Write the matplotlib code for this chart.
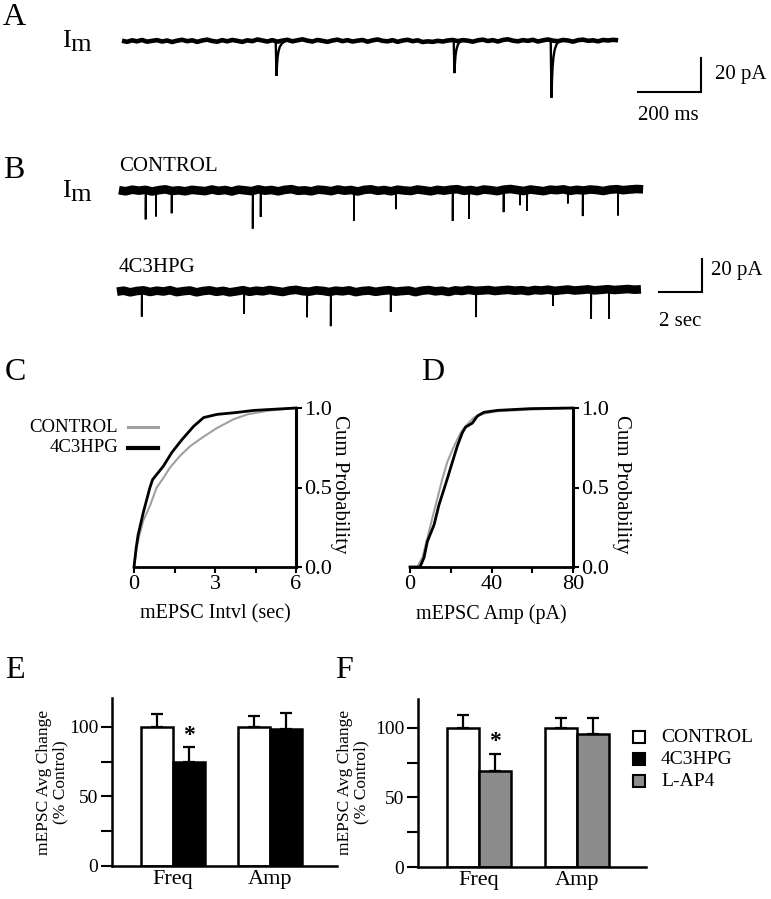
import numpy as np
import matplotlib
matplotlib.use('Agg')
import matplotlib.pyplot as plt
from matplotlib.patches import Rectangle
from matplotlib.lines import Line2D

plt.rcParams['font.family'] = ['Liberation Serif', 'DejaVu Serif']
plt.rcParams['axes.linewidth'] = 1.8

W, H = 771, 899
fig = plt.figure(figsize=(W / 100, H / 100), dpi=100)
fig.patch.set_facecolor('white')

# ---------------- data ----------------
# Panel A: single trace (time in ms, current in pA)
a_duration = 1575
a_event_t = [489, 1054, 1362]
a_event_amp = [20.0, 19.5, 33.5]
a_baseline = [0.2, -0.5, 0.4, -0.2, 0.6, -0.4, 0.1, 0.5, -0.3, 0.3, -0.6, 0.2, 0.7, -0.1,
              0.4, -0.5, 0.3, 0.8, 0.0, -0.4, 0.5, -0.2, 0.6, 0.1, -0.5, 0.4, -0.1, 0.9,
              0.3, -0.3, 0.5, -0.4, 0.2, 0.7, -0.2, 0.4, 1.0, 0.2, -0.3, 0.6, 0.1, -0.5,
              0.3, 0.8, -0.1, 0.5, -0.3, 0.2, 0.6, -0.4, 0.4, 0.9, 0.1, -0.2, 0.5, -0.5,
              0.3, 0.7, -0.1, 0.4, -0.6, -0.2, -0.5, 0.1, -0.3, 0.3, 0.6, -0.1, 0.5, 0.2,
              -0.4, 0.4, 0.8, 0.0, 0.5, -0.3, 0.6, 1.0, 0.2, -0.2, 0.5, 0.1, 0.7, -0.3,
              0.4, 0.9, 0.2, -0.1, 0.6, 0.3, -0.4, 0.5, 0.8, 0.1, 0.4, -0.2, 0.6, 0.3,
              0.7, 0.4]
# mEPSC waveform (ms offsets, normalised amplitude)
wave_t = [-1, 0, 1.5, 3, 5, 8, 12, 18, 26]
wave_v = [0, -0.4, -1.0, -0.7, -0.45, -0.28, -0.15, -0.06, 0]

# Panel B: long traces (time in s, current in pA)
b_ctrl_span = (0.09, 24.47)
b_ctrl_event_t = [1.33, 1.81, 2.54, 6.31, 6.68, 11.02, 12.97, 15.61, 16.37, 17.98,
                  18.74, 19.07, 20.97, 21.66, 23.30]
b_ctrl_event_amp = [17.9, 15.9, 13.5, 22.7, 16.7, 18.5, 11.8, 18.9, 17.3, 13.6,
                    9.2, 13.0, 7.6, 15.5, 15.9]
b_ctrl_baseline = [0.2, -0.5, 0.5, -0.1, 0.4, -0.6, 0.2, 0.7, -0.3, 0.1, -0.5, 0.4, 0.0,
                   -0.4, 0.6, -0.2, 0.3, -0.6, 0.5, 0.1, -0.4, 0.7, -0.1, 0.3, -0.5, 0.4,
                   0.8, -0.2, 0.1, -0.5, 0.5, 0.2, -0.4, 0.6, -0.1, 0.3, -0.6, 0.4, 0.7,
                   -0.2, 0.3, -0.5, 0.5, 0.0, -0.3, 0.6, 0.1, -0.5, 0.4, -0.1, 0.5, 0.8,
                   -0.2, 0.3, -0.4, 0.6, 0.2, -0.4, 0.5, 0.9, 0.3, -0.3, 0.6, 0.1, -0.4,
                   0.5, 0.2, 0.7, -0.2, 0.4, 0.0, 0.6, 0.3, -0.3, 0.5, 0.8, 0.2, 0.6, 0.9,
                   0.7]
b_drug_span = (0.0, 24.37)
b_drug_event_t = [1.15, 5.91, 8.84, 9.94, 12.73, 16.70, 20.28, 22.05, 22.88]
b_drug_event_amp = [15.9, 14.2, 15.5, 20.7, 13.2, 15.9, 9.2, 17.9, 17.9]
b_drug_baseline = [-0.1, 0.5, -0.5, 0.3, 0.7, -0.3, 0.5, 0.0, 0.8, -0.4, 0.2, 0.6, -0.5,
                   0.3, 0.7, -0.2, 0.4, -0.5, 0.1, 0.8, -0.2, 0.5, 0.1, 0.9, 0.3, -0.3,
                   0.6, 1.0, 0.2, -0.1, 0.7, 0.4, -0.3, 0.5, 0.1, 0.7, -0.4, 0.3, 0.6,
                   -0.2, 0.4, 0.8, -0.1, 0.3, 0.6, -0.4, 0.5, 0.9, 0.1, 0.5, -0.3, 0.7,
                   0.3, 1.0, 0.4, 0.6, 0.9, 0.3, 0.7, 1.0, 0.5, 0.8, 0.2, 0.9, 0.6, 1.1,
                   0.4, 0.8, 1.2, 0.6, 0.9, 1.3, 0.7, 1.0, 1.4, 0.9, 1.2, 1.5, 1.1, 1.3]

# Panel C: cumulative probability of inter-event interval (s)
c_ctrl_x = [0, 0.1, 0.2, 0.34, 0.59, 0.84, 1.09, 1.33, 1.71, 2.08, 2.58, 3.08, 3.70,
            4.20, 4.95, 6.0]
c_ctrl_y = [0, 0.12, 0.2, 0.29, 0.385, 0.50, 0.56, 0.625, 0.70, 0.76, 0.82, 0.875,
            0.93, 0.96, 0.983, 1.0]
c_drug_x = [0, 0.08, 0.15, 0.34, 0.59, 0.69, 1.09, 1.40, 1.77, 2.21, 2.58, 3.08, 3.70,
            4.45, 6.0]
c_drug_y = [0, 0.12, 0.2, 0.34, 0.50, 0.55, 0.635, 0.72, 0.80, 0.885, 0.94, 0.96, 0.97,
            0.985, 1.0]

# Panel D: cumulative probability of amplitude (pA)
d_ctrl_x = [0, 3.6, 6.1, 8.5, 11.0, 13.4, 15.9, 18.3, 21.6, 24.9, 27.3, 31.4, 36.3,
            42.9, 59.2, 80]
d_ctrl_y = [0, 0, 0.06, 0.18, 0.31, 0.43, 0.555, 0.66, 0.76, 0.845, 0.886, 0.94, 0.965,
            0.98, 0.99, 1.0]
d_drug_x = [0, 4.9, 6.9, 8.5, 11.8, 14.2, 16.7, 18.3, 20.8, 23.2, 25.7, 27.3, 30.6,
            33.1, 36.3, 42.9, 59.2, 80]
d_drug_y = [0, 0, 0.06, 0.16, 0.265, 0.39, 0.49, 0.555, 0.66, 0.76, 0.845, 0.88, 0.905,
            0.95, 0.973, 0.985, 0.996, 1.0]

# Panels E and F: average change (% control)
groups = ['Freq', 'Amp']
series_names = ['CONTROL', '4C3HPG', 'L-AP4']
series_colors = ['white', 'black', '#8c8c8c']
e_ctrl = [100, 100]
e_ctrl_err = [9.4, 8.0]
e_drug = [74.5, 98.5]
e_drug_err = [11.1, 11.5]
f_ctrl = [100, 100]
f_ctrl_err = [9.6, 7.0]
f_lap4 = [69, 96]
f_lap4_err = [12.0, 11.5]
star_level_e = 94
star_level_f = 90

GREY_LINE = '#a0a0a0'


# ---------------- helpers ----------------
def px_axes(x0, y0, x1, y1):
    return fig.add_axes([x0 / W, 1 - y1 / H, (x1 - x0) / W, (y1 - y0) / H])


def ftext(x, y, s, **kw):
    return fig.text(x / W, 1 - y / H, s, **kw)


def draw_trace(ax, span, base, ev_t, ev_a, offset, tscale, lw_base, lw_ev):
    kt = np.linspace(span[0], span[1], len(base))
    base = np.asarray(base)
    ax.plot(kt, base + offset, color='k', lw=lw_base, solid_capstyle='butt',
            solid_joinstyle='round')
    wt = np.asarray(wave_t) * tscale
    wv = np.asarray(wave_v)
    for te, a in zip(ev_t, ev_a):
        b = base[np.argmin(np.abs(kt - te))]
        ax.plot(te + wt, offset + b + a * wv, color='k', lw=lw_ev,
                solid_joinstyle='miter')


# ---------------- panel A ----------------
axA = px_axes(100, 0, 771, 140)
axA.axis('off')
pxms = 0.315  # px per ms
pxpa = 1.7    # px per pA
axA.set_xlim((100 - 122) / pxms, (771 - 122) / pxms)
axA.set_ylim((41 - 140) / pxpa, 41 / pxpa)
draw_trace(axA, (0, a_duration), a_baseline, a_event_t, a_event_amp, 0, 1.0, 3.3, 1.7)
sbx = (638 - 122) / pxms
sby = (41 - 92) / pxpa
axA.plot([sbx, sbx + 200, sbx + 200], [sby, sby, sby + 20], color='k', lw=1.5,
         solid_joinstyle='miter')
axA.text(sbx + 200 + 14 / pxms, sby + 10, '20 pA', fontsize=15, va='center', ha='left')
axA.text(sbx, (41 - 115) / pxpa, '200 ms', fontsize=15, va='center', ha='left')

# ---------------- panel B ----------------
axB = px_axes(100, 140, 771, 340)
axB.axis('off')
pxs = 21.5   # px per s
pxpb = 1.65  # px per pA
axB.set_xlim((100 - 117) / pxs, (771 - 117) / pxs)
axB.set_ylim((190.5 - 340) / pxpb, (190.5 - 140) / pxpb)
drug_off = (190.5 - 291.5) / pxpb
draw_trace(axB, b_ctrl_span, b_ctrl_baseline, b_ctrl_event_t, b_ctrl_event_amp, 0,
           0.001, 6.2, 1.3)
draw_trace(axB, b_drug_span, b_drug_baseline, b_drug_event_t, b_drug_event_amp,
           drug_off, 0.001, 6.2, 1.3)
sbx = (659 - 117) / pxs
sby = (190.5 - 291.7) / pxpb
axB.plot([sbx, sbx + 2, sbx + 2], [sby, sby, sby + 20], color='k', lw=1.5,
         solid_joinstyle='miter')
axB.text(sbx + 2 + 9 / pxs, sby + 13, '20 pA', fontsize=15, va='center', ha='left')
axB.text(sbx, (190.5 - 321.7) / pxpb, '2 sec', fontsize=15, va='center', ha='left')
axB.text(0.09, (190.5 - 171) / pxpb, 'CONTROL', fontsize=15, va='baseline', ha='left')
axB.text(0.09, (190.5 - 272) / pxpb, '4C3HPG', fontsize=15, va='baseline', ha='left')

# I_m labels and panel letters
for yb in (47, 197):
    ftext(62, yb, 'I', fontsize=19, va='baseline')
    ftext(70, yb + 4, 'm', fontsize=19, va='baseline')
for letter, x, yb in [('A', 3, 25), ('B', 3, 178), ('C', 5, 380), ('D', 421, 380),
                      ('E', 5, 678), ('F', 335, 678)]:
    ftext(x, yb, letter, fontsize=23, va='baseline')


# ---------------- panels C, D ----------------
def cdf_axes(box, xlim, xmaj, xmin, xlabel, cx, cy, dx, dy, ylab_x):
    ax = px_axes(*box)
    ax.plot(cx, cy, color=GREY_LINE, lw=1.5, clip_on=False, zorder=3)
    ax.plot(dx, dy, color='k', lw=2.0, clip_on=False, zorder=4)
    ax.set_xlim(*xlim)
    ax.set_ylim(0, 1)
    for s in ('left', 'top'):
        ax.spines[s].set_visible(False)
    ax.spines['right'].set_linewidth(2.2)
    ax.spines['bottom'].set_linewidth(2.0)
    ax.yaxis.tick_right()
    ax.yaxis.set_label_position('right')
    ax.set_xticks(xmaj)
    ax.set_xticks(xmin, minor=True)
    ax.set_yticks([0, 0.5, 1.0])
    ax.set_yticklabels(['0.0', '0.5', '1.0'])
    ax.tick_params(which='both', direction='out', length=4.5, width=1.5, labelsize=16,
                   pad=1.5)
    ax.set_xlabel(xlabel, fontsize=14.5)
    ax.xaxis.label.set_va('center')
    ax.xaxis.set_label_coords(0.5, (box[3] - 614) / (box[3] - box[1]))
    ax.set_ylabel('Cum Probability', fontsize=15, rotation=270)
    ax.yaxis.label.set_va('center')
    ax.yaxis.label.set_rotation_mode('default')
    ax.yaxis.set_label_coords((ylab_x - box[0]) / (box[2] - box[0]),
                              (box[3] - 484) / (box[3] - box[1]))
    return ax


axC = cdf_axes((134, 408, 296, 567), (0, 6), [0, 3, 6], [1.5, 4.5],
               'mEPSC Intvl (sec)', c_ctrl_x, c_ctrl_y, c_drug_x, c_drug_y, 340)
axD = cdf_axes((410, 408, 573, 567), (0, 80), [0, 40, 80], [20, 60],
               'mEPSC Amp (pA)', d_ctrl_x, d_ctrl_y, d_drug_x, d_drug_y, 621)

# legend of C
for name, y, col, lw in [(series_names[0], 427, GREY_LINE, 2.2),
                         (series_names[1], 448, 'k', 3.0)]:
    fig.add_artist(Line2D([128 / W, 158 / W], [1 - y / H, 1 - y / H],
                          transform=fig.transFigure, color=col, lw=lw))
    ftext(118, y, name, fontsize=13.5, ha='right', va='center')


# ---------------- panels E, F ----------------
def bar_axes(box, pos, xmax, ctrl, ctrl_err, drug, drug_err, drug_color, star_y,
             ylab_x):
    ax = px_axes(*box)
    pos = np.asarray(pos)
    ax.bar(pos - 0.5, ctrl, width=1.0, color=series_colors[0], edgecolor='k', lw=1.8,
           zorder=2)
    ax.bar(pos + 0.5, drug, width=1.0, color=drug_color, edgecolor='k', lw=1.8, zorder=2)
    ax.errorbar(pos - 0.5, ctrl, yerr=[np.zeros(len(ctrl)), ctrl_err], fmt='none',
                ecolor='k', elinewidth=1.6, capsize=4, capthick=1.6, zorder=3)
    ax.errorbar(pos + 0.5, drug, yerr=[np.zeros(len(drug)), drug_err], fmt='none',
                ecolor='k', elinewidth=1.6, capsize=4, capthick=1.6, zorder=3)
    ax.text(pos[0] + 0.5, star_y, '*', fontsize=17, fontweight='bold', ha='center',
            va='center')
    ax.set_xlim(0, xmax)
    ax.set_ylim(0, 121)
    for s in ('right', 'top'):
        ax.spines[s].set_visible(False)
    ax.set_xticks(pos)
    ax.set_xticklabels(groups, fontsize=16)
    ax.tick_params(axis='x', length=0, pad=3)
    ax.set_yticks([0, 50, 100])
    ax.set_yticks([25, 75], minor=True)
    ax.tick_params(axis='y', which='both', direction='out', length=8, width=1.5,
                   labelsize=14, pad=2)
    ax.set_ylabel('mEPSC Avg Change\n(% Control)', fontsize=12.5, linespacing=1.0)
    ax.yaxis.label.set_va('center')
    ax.yaxis.label.set_rotation_mode('default')
    ax.yaxis.set_label_coords((ylab_x - box[0]) / (box[2] - box[0]),
                              (box[3] - 782) / (box[3] - box[1]))
    return ax


axE = bar_axes((112, 697.8, 337, 866), [1.9, 4.94], 7.03, e_ctrl, e_ctrl_err, e_drug,
               e_drug_err, series_colors[1], star_level_e, 52)
axF = bar_axes((418, 698.8, 646, 867), [1.9, 4.97], 7.125, f_ctrl, f_ctrl_err, f_lap4,
               f_lap4_err, series_colors[2], star_level_f, 353)

# legend of F
for name, col, y in zip(series_names, series_colors, [737, 759, 781]):
    fig.add_artist(Rectangle((633 / W, 1 - (y + 6) / H), 12 / W, 12 / H,
                             transform=fig.transFigure, facecolor=col, edgecolor='k',
                             lw=1.5))
    ftext(661, y, name, fontsize=14, ha='left', va='center')

fig.savefig('out.png', dpi=100, facecolor='white')
